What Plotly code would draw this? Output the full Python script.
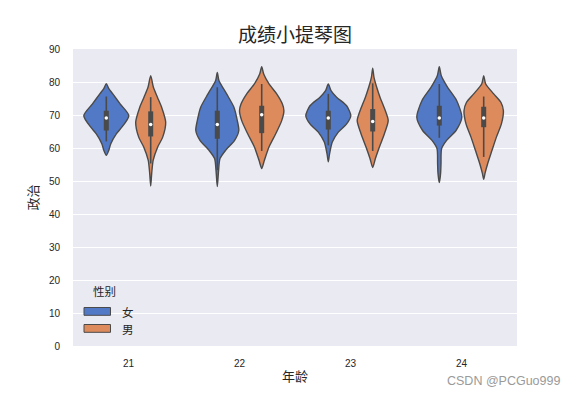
import plotly.graph_objects as go

ages = ['21', '22', '23', '24']
genders = ['女', '男']

# violin outline profiles: score levels and half-width (density, px units)
female_y = [
    [79.5, 78, 76.4, 73.3, 69.8, 66.3, 64.3, 61.3, 59.3, 57.8],
    [82.9, 80.4, 76.4, 72.3, 68.3, 65.3, 62.3, 59.3, 56.8, 53.3, 48.3],
    [79.4, 77.4, 75.4, 72.8, 69.8, 67.3, 64.8, 61.8, 58.3, 55.8],
    [84.6, 81.9, 78.4, 74.4, 69.3, 65.3, 62.3, 59.8, 55.3, 52.3, 49.5],
]
female_w = [
    [0, 2.5, 6.5, 14, 22.5, 15.5, 10, 4.5, 2.5, 0],
    [0, 1.7, 9.3, 16.7, 20, 21.5, 17.3, 8.3, 2.7, 1.3, 0],
    [0, 2.7, 8.3, 18.3, 22.5, 18.3, 10, 4, 1.3, 0],
    [0, 2, 8.3, 17.3, 22.5, 16.7, 7.3, 2.3, 1.7, 1.3, 0],
]
male_y = [
    [81.9, 78.4, 75.4, 72.3, 67.8, 63.3, 60.3, 56.3, 52.3, 48.5],
    [84.6, 82.4, 79.4, 76.4, 73.3, 71.3, 68.3, 64.3, 60.3, 56.3, 53.8],
    [84.2, 81.4, 78.4, 75.4, 71.8, 68.3, 64.3, 60.3, 56.8, 54.1],
    [81.9, 79.4, 76.4, 73.8, 71.3, 67.3, 63.3, 59.3, 55.3, 52.3, 50.5],
]
male_w = [
    [0, 2.7, 6.7, 11, 15, 12, 7, 2.5, 1, 0],
    [0, 2, 7.3, 15, 20.7, 22.2, 20, 14, 7.3, 2.7, 0],
    [0, 1.3, 4, 7.3, 12, 15.5, 11.7, 6.7, 2.7, 0],
    [0, 2, 10, 17.3, 19.7, 17.7, 12.7, 8.3, 4, 1.3, 0],
]

# inner box statistics
female_q1 = [65.3, 62.8, 65.6, 66.8]
female_med = [69.1, 67.1, 69.1, 69.1]
female_q3 = [71.3, 71.3, 71.3, 72.8]
female_lo = [62.0, 53.3, 60.8, 63.1]
female_hi = [75.6, 78.4, 76.4, 79.4]
male_q1 = [63.5, 64.5, 65.0, 66.3]
male_med = [67.1, 70.1, 68.0, 69.1]
male_q3 = [71.1, 72.8, 71.8, 72.5]
male_lo = [55.3, 59.1, 59.1, 57.3]
male_hi = [75.4, 79.4, 79.6, 75.6]

colors = {'女': '#5279C5', '男': '#DD8A5C'}
edge = '#4a4a4a'
px_per_unit = 111.0

fig = go.Figure()

groups = [
    ('女', -0.2, female_y, female_w, female_q1, female_med, female_q3, female_lo, female_hi),
    ('男', 0.2, male_y, male_w, male_q1, male_med, male_q3, male_lo, male_hi),
]

for g, off, ys, ws, q1, med, q3, lo, hi in groups:
    for i, age in enumerate(ages):
        c = i + off
        y = ys[i]
        w = [v / px_per_unit for v in ws[i]]
        xs = [c + v for v in w] + [c - v for v in reversed(w[:-1])]
        yy = list(y) + list(reversed(y[:-1]))
        fig.add_trace(go.Scatter(
            x=xs, y=yy, mode='lines', fill='toself', fillcolor=colors[g],
            line=dict(color=edge, width=1.4, shape='spline', smoothing=0.7),
            name=g, showlegend=False, hoverinfo='skip'))
        fig.add_trace(go.Scatter(
            x=[c, c], y=[lo[i], hi[i]], mode='lines',
            line=dict(color=edge, width=1.6), showlegend=False, hoverinfo='skip'))
        fig.add_trace(go.Scatter(
            x=[c, c], y=[q1[i], q3[i]], mode='lines',
            line=dict(color=edge, width=5), showlegend=False, hoverinfo='skip'))
        fig.add_trace(go.Scatter(
            x=[c], y=[med[i]], mode='markers',
            marker=dict(color='white', size=3.5), showlegend=False, hoverinfo='skip'))

font_family = 'Liberation Sans, Noto Sans CJK SC, sans-serif'
cjk = 'Noto Sans CJK SC, sans-serif'

# manual legend (paper coordinates, plot area 444x297 px)
def px_x(p):
    return (p - 73) / 444.0

def px_y(p):
    return (346 - p) / 297.0

shapes = []
annotations = []
for k, g in enumerate(genders):
    top = 307.5 + k * 17
    shapes.append(dict(type='rect', xref='paper', yref='paper',
                       x0=px_x(84), x1=px_x(110.5), y0=px_y(top + 7.8), y1=px_y(top),
                       fillcolor=colors[g], line=dict(color=edge, width=1)))
    annotations.append(dict(text=g, xref='paper', yref='paper', x=px_x(120), y=px_y(top + 4),
                            xanchor='left', yanchor='middle', showarrow=False,
                            font=dict(size=11.5, color='#262626', family=cjk)))
annotations.append(dict(text='性别', xref='paper', yref='paper', x=px_x(104), y=px_y(291),
                        xanchor='center', yanchor='middle', showarrow=False,
                        font=dict(size=11.5, color='#262626', family=cjk)))
annotations.append(dict(text='CSDN @PCGuo999', xref='paper', yref='paper', x=px_x(562), y=px_y(381),
                        xanchor='right', yanchor='middle', showarrow=False,
                        font=dict(size=12.5, color='#9a9a9a', family='Liberation Sans, sans-serif')))

fig.update_layout(
    width=568, height=388,
    margin=dict(l=65, r=59, t=41, b=50),
    paper_bgcolor='white', plot_bgcolor='#EAEAF2',
    font=dict(family=font_family, size=10, color='#262626'),
    title=dict(text='成绩小提琴图', x=(295 - 8) / 568.0, xanchor='center',
               y=1 - (35 - 8) / 388.0, yanchor='middle',
               font=dict(size=19, color='#262626', family=cjk)),
    xaxis=dict(range=[-0.5, 3.5], tickmode='array', tickvals=[0, 1, 2, 3], ticktext=ages,
               showgrid=False, zeroline=False, ticks='', ticklabelstandoff=10,
               title=dict(text='年龄', font=dict(size=13, family=cjk), standoff=3),
               tickfont=dict(size=10)),
    yaxis=dict(range=[0, 90], tickmode='array', tickvals=list(range(0, 91, 10)),
               gridcolor='white', gridwidth=1, zeroline=False, ticks='', ticklabelstandoff=12,
               title=dict(text='政治', font=dict(size=13, family=cjk), standoff=7),
               tickfont=dict(size=10)),
    showlegend=False,
    shapes=shapes,
    annotations=annotations,
)

fig.write_html('out.html')
